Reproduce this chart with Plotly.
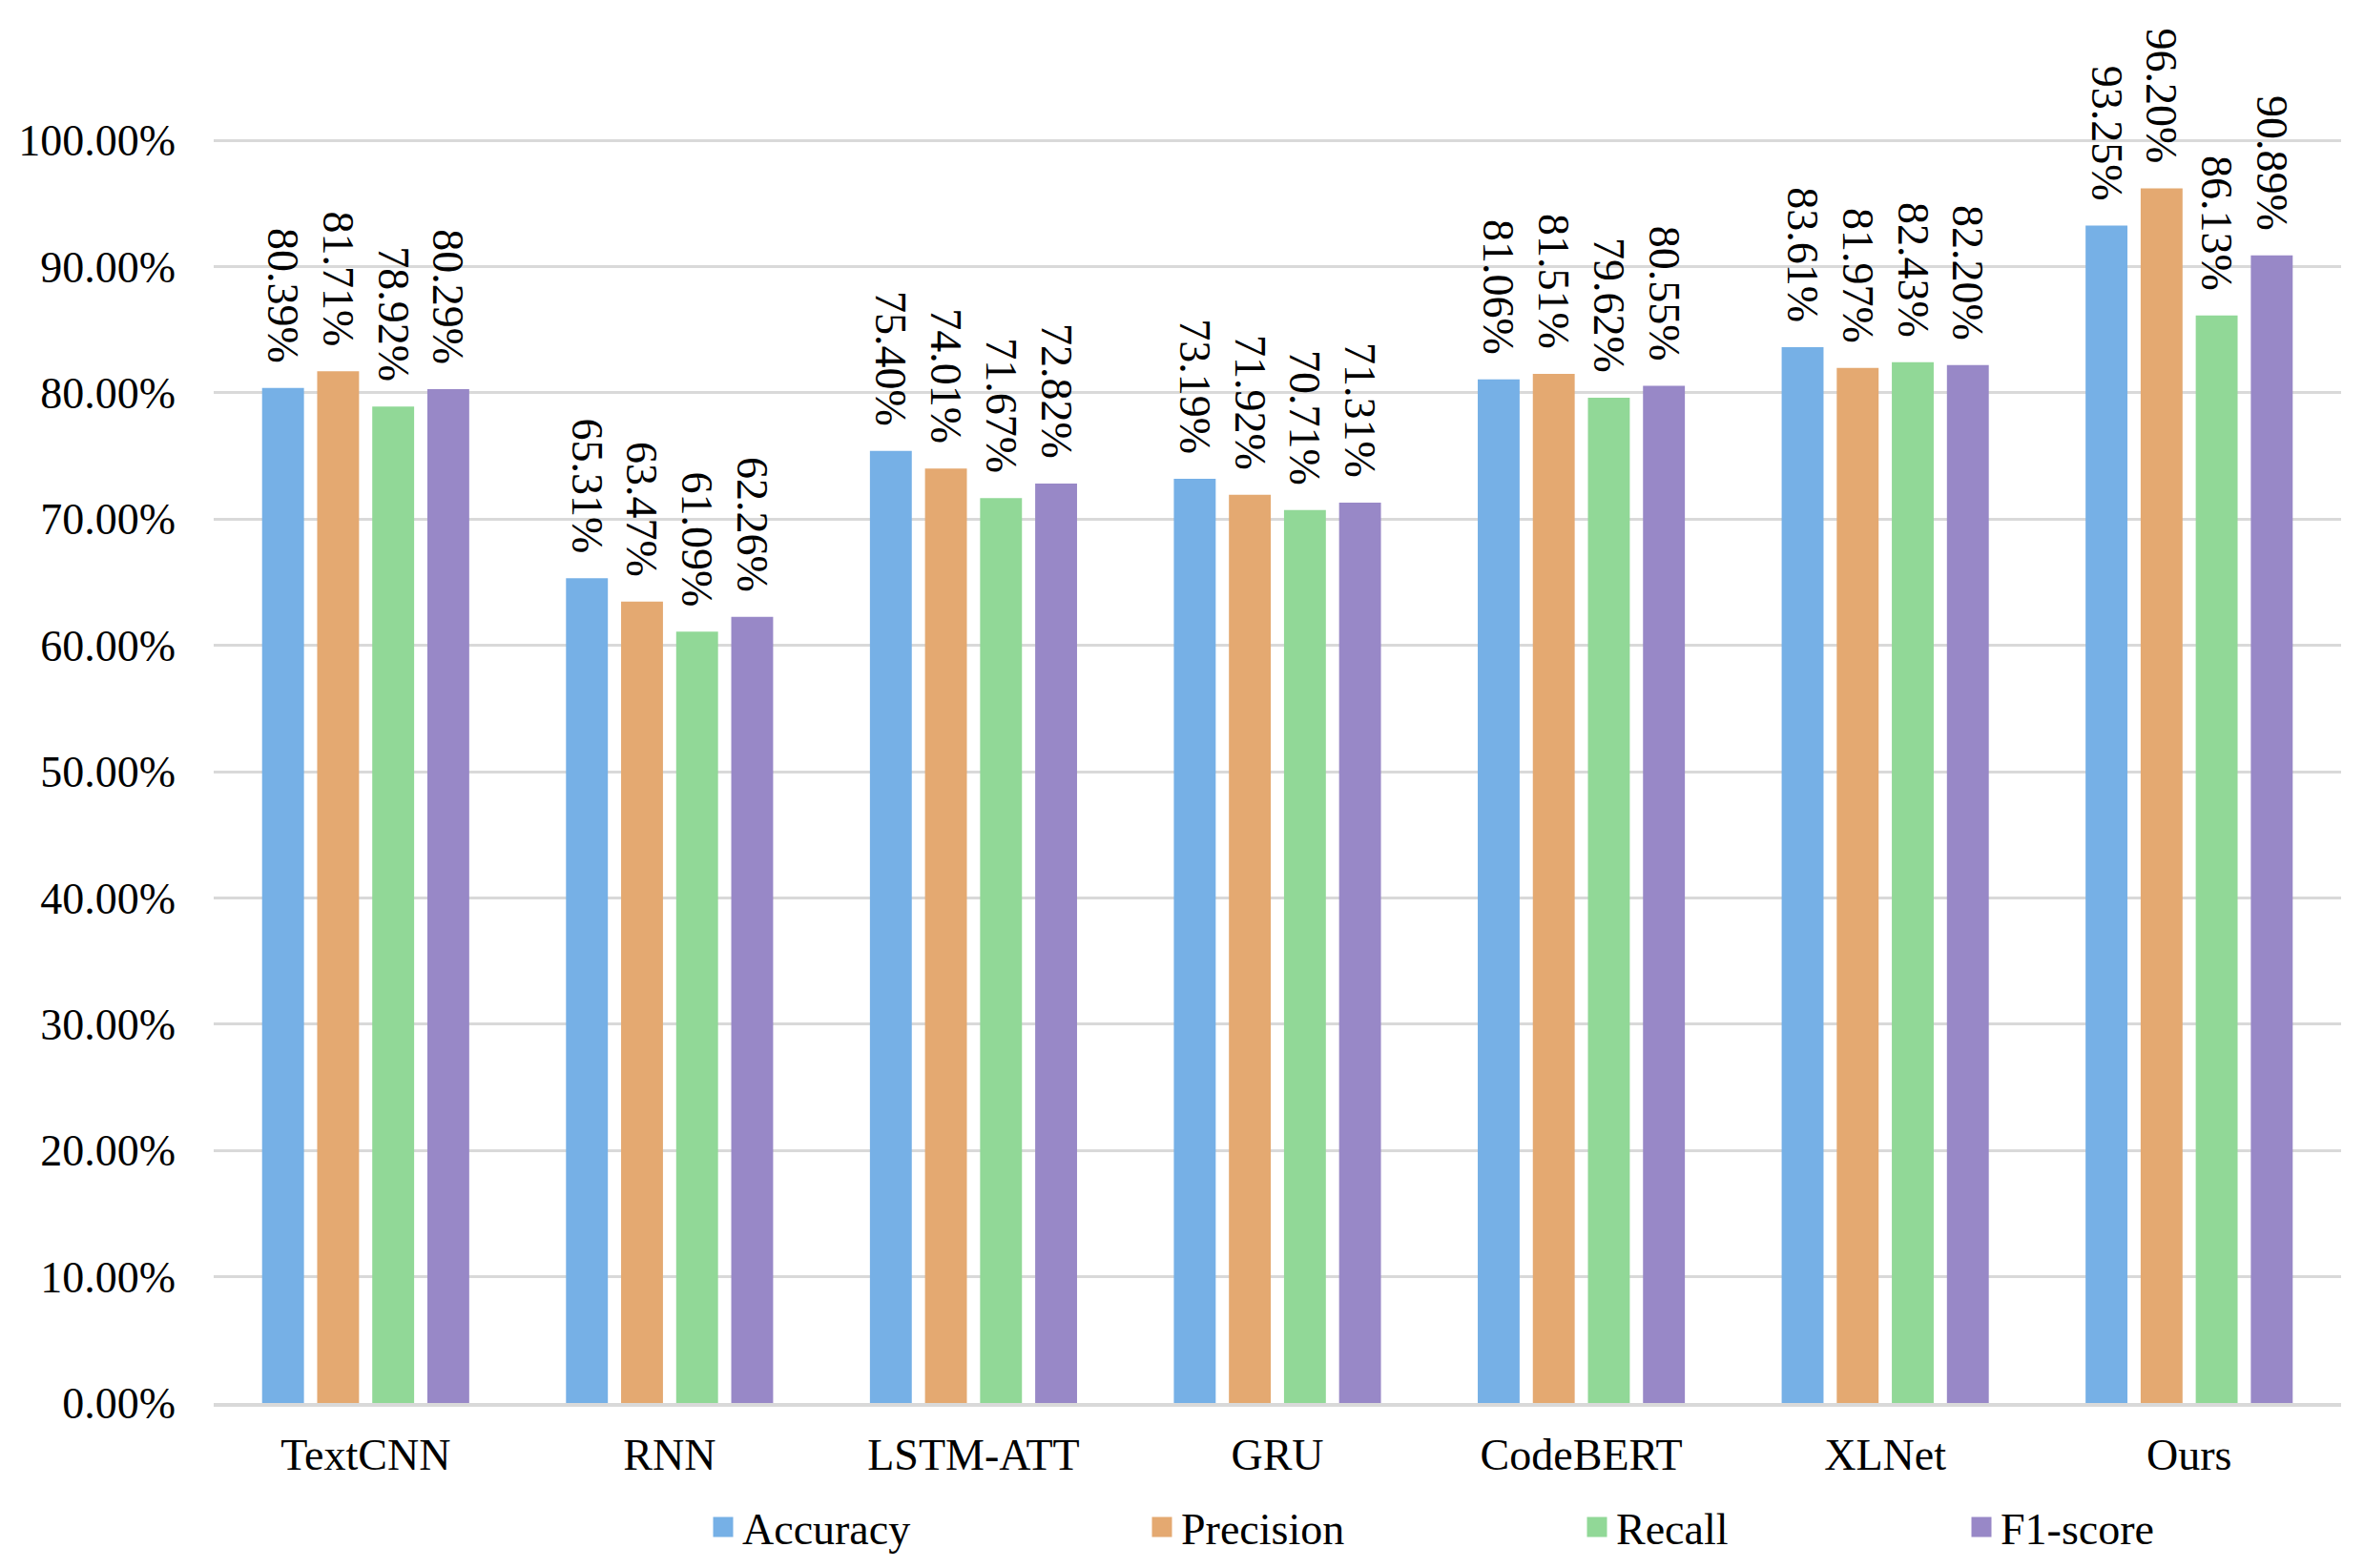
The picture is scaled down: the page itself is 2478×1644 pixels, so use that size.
import plotly.graph_objects as go

models = ["TextCNN", "RNN", "LSTM-ATT", "GRU", "CodeBERT", "XLNet", "Ours"]
accuracy = [0.8039, 0.6531, 0.7540, 0.7319, 0.8106, 0.8361, 0.9325]
precision = [0.8171, 0.6347, 0.7401, 0.7192, 0.8151, 0.8197, 0.9620]
recall = [0.7892, 0.6109, 0.7167, 0.7071, 0.7962, 0.8243, 0.8613]
f1_score = [0.8029, 0.6226, 0.7282, 0.7131, 0.8055, 0.8220, 0.9089]
series_names = ["Accuracy", "Precision", "Recall", "F1-score"]
y_ticks = [0.0, 0.1, 0.2, 0.3, 0.4, 0.5, 0.6, 0.7, 0.8, 0.9, 1.0]

colors = ["#76B0E6", "#E4A971", "#91D897", "#9888C7"]
FONT = "Liberation Serif"
W, H = 2478, 1644
ML, MR, MT, MB = 224, 24, 20, 173
PW = W - ML - MR
PH = H - MT - MB

series_values = [accuracy, precision, recall, f1_score]
legend_ids = ["legend", "legend2", "legend3", "legend4"]
# swatch centres (px) of legend entries
legend_px = [758, 1218, 1674, 2077]
legend_py = 1601

fig = go.Figure()
for name, vals, col in zip(series_names, series_values, colors):
    fig.add_trace(go.Bar(
        x=models, y=vals, name=name, marker=dict(color=col, line=dict(width=0)),
        texttemplate="%{y:.2%}\u00a0\u00a0", textposition="outside", textangle=90,
        textfont=dict(family=FONT, size=46, color="black"),
        constraintext="none", cliponaxis=False, showlegend=False,
    ))

for name, col, lid in zip(series_names, colors, legend_ids):
    fig.add_trace(go.Scatter(
        x=[None], y=[None], mode="markers", name=name, legend=lid,
        marker=dict(symbol="square", size=16, color=col, line=dict(color=col, width=5)),
        showlegend=True,
    ))

leg_y = (H - MB - legend_py) / PH
legend_layouts = {}
for lid, px in zip(legend_ids, legend_px):
    legend_layouts[lid] = dict(
        x=(px - 20 - ML) / PW, xanchor="left", y=leg_y, yanchor="middle",
        orientation="h", font=dict(family=FONT, size=46, color="black"),
        bgcolor="rgba(0,0,0,0)", borderwidth=0, itemclick=False,
    )

fig.update_layout(
    width=W, height=H,
    margin=dict(l=ML, r=MR, t=MT, b=MB, autoexpand=False),
    plot_bgcolor="white", paper_bgcolor="white",
    barmode="group", bargap=0.275, bargroupgap=0.24,
    font=dict(family=FONT, size=46, color="black"),
    hovermode=False,
    **legend_layouts,
)
fig.update_yaxes(
    range=[0, 1.096], tickvals=y_ticks, tickformat=".2%", automargin=False,
    showgrid=True, gridcolor="#D9D9D9", gridwidth=3,
    zeroline=False, showline=False, ticks="", ticklabelstandoff=39,
    tickfont=dict(family=FONT, size=46, color="black"),
)
fig.update_xaxes(
    showline=True, linecolor="#D9D9D9", linewidth=4, ticks="", showgrid=False,
    automargin=False,
    tickfont=dict(family=FONT, size=46, color="black"), ticklabelstandoff=11,
)

# make the page exactly the figure: no default body margin, no stray line boxes
page_css = (
    "var b=document.body, r=document.documentElement;"
    "b.style.margin='0'; b.style.padding='0'; b.style.fontSize='0'; b.style.lineHeight='0';"
    "b.style.height='1644px'; b.style.overflow='hidden';"
    "r.style.height='1644px'; r.style.overflow='hidden';"
)
fig.write_html("out.html", config={"displayModeBar": False, "staticPlot": True},
               post_script=page_css)
